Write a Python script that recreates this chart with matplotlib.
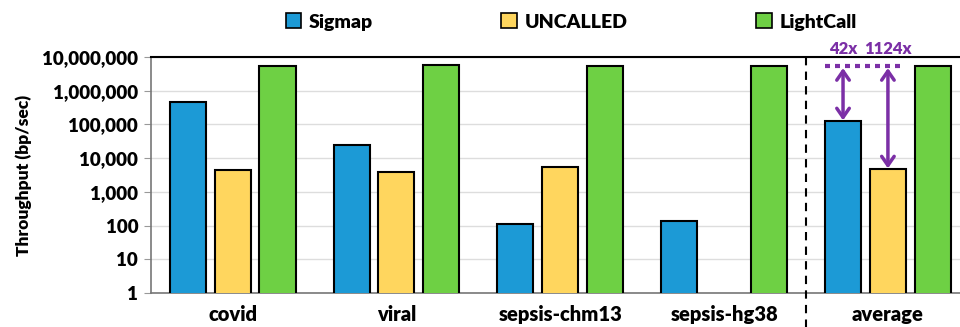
import numpy as np
import matplotlib.pyplot as plt
from matplotlib.patches import Patch

plt.rcParams['font.family'] = ['Lato', 'DejaVu Sans']
plt.rcParams['font.weight'] = 'bold'

datasets = ["covid", "viral", "sepsis-chm13", "sepsis-hg38", "average"]
sigmap = [450000, 24000, 110, 135, 125000]
uncalled = [4500, 3900, 5500, np.nan, 4700]
lightcall = [5300000, 5600000, 5300000, 5300000, 5300000]
speedup_labels = ["42x", "1124x"]

colors = {"Sigmap": "#1C9AD6", "UNCALLED": "#FFD65E", "LightCall": "#6ED044"}
purple = "#7B2FA6"

fig = plt.figure(figsize=(9.6, 3.27), dpi=100)
ax = fig.add_axes([0.157, 0.104, 0.843, 0.722])

x = np.arange(len(datasets))
w = 0.22
step = 0.274
for i, (name, vals) in enumerate([("Sigmap", sigmap), ("UNCALLED", uncalled), ("LightCall", lightcall)]):
    ax.bar(x + (i - 1) * step, vals, w, color=colors[name], edgecolor="black", linewidth=1.5, zorder=3)

ax.set_yscale("log")
ax.set_ylim(1, 1e7)
ax.set_xlim(-0.5, 4.44)
ax.set_yticks([10 ** k for k in range(8)])
ax.set_yticklabels([f"{10 ** k:,}" for k in range(8)], fontsize=13.5, fontweight="heavy")
ax.minorticks_off()
ax.set_xticks(x)
ax.set_xticklabels(datasets, fontsize=14.5, fontweight="heavy")
ax.tick_params(axis="x", length=0, pad=9)
ax.tick_params(axis="y", length=5, color="#999999", pad=4)
ax.set_ylabel("Throughput (bp/sec)", fontsize=12.5, fontweight="heavy", labelpad=7)
ax.grid(axis="y", color="#DDDDDD", linewidth=1, zorder=0)

for side in ["left", "bottom"]:
    ax.spines[side].set_color("#777777")
    ax.spines[side].set_linewidth(1.2)
ax.spines["right"].set_visible(False)
ax.spines["top"].set_color("black")
ax.spines["top"].set_linewidth(1.5)

# separator before the average group
ax.plot([3.5, 3.5], [1e7, 0.1], color="black", linestyle=(0, (4, 3)), linewidth=1.5, clip_on=False, zorder=4)

# speedup annotations on the average group
avg = len(datasets) - 1
top = lightcall[avg]
ax.plot([avg - 1.4 * step, avg + 0.35 * step], [top, top], color=purple, linestyle=(0, (1.2, 1.2)),
        linewidth=3, zorder=5)
for off, val, lab in [(-step, sigmap[avg], speedup_labels[0]), (0, uncalled[avg], speedup_labels[1])]:
    ax.annotate("", xy=(avg + off, val * 1.05), xytext=(avg + off, top * 0.88),
                arrowprops=dict(arrowstyle="<->,head_width=0.45,head_length=0.65", color=purple,
                                lw=2.5, shrinkA=0, shrinkB=0), zorder=6)
    ax.text(avg + off, top * 1.85, lab, color=purple, fontsize=12, fontweight="heavy",
            ha="center", va="bottom")

handles = [Patch(facecolor=colors[n], edgecolor="black", linewidth=1.2, label=n) for n in colors]
fig.legend(handles=handles, loc="center", bbox_to_anchor=(0.595, 0.933), ncol=3, frameon=False,
           handlelength=0.8, handleheight=0.8, handletextpad=0.4, columnspacing=6.6,
           prop={"weight": "heavy", "size": 14})

fig.savefig("out.png", dpi=100)
